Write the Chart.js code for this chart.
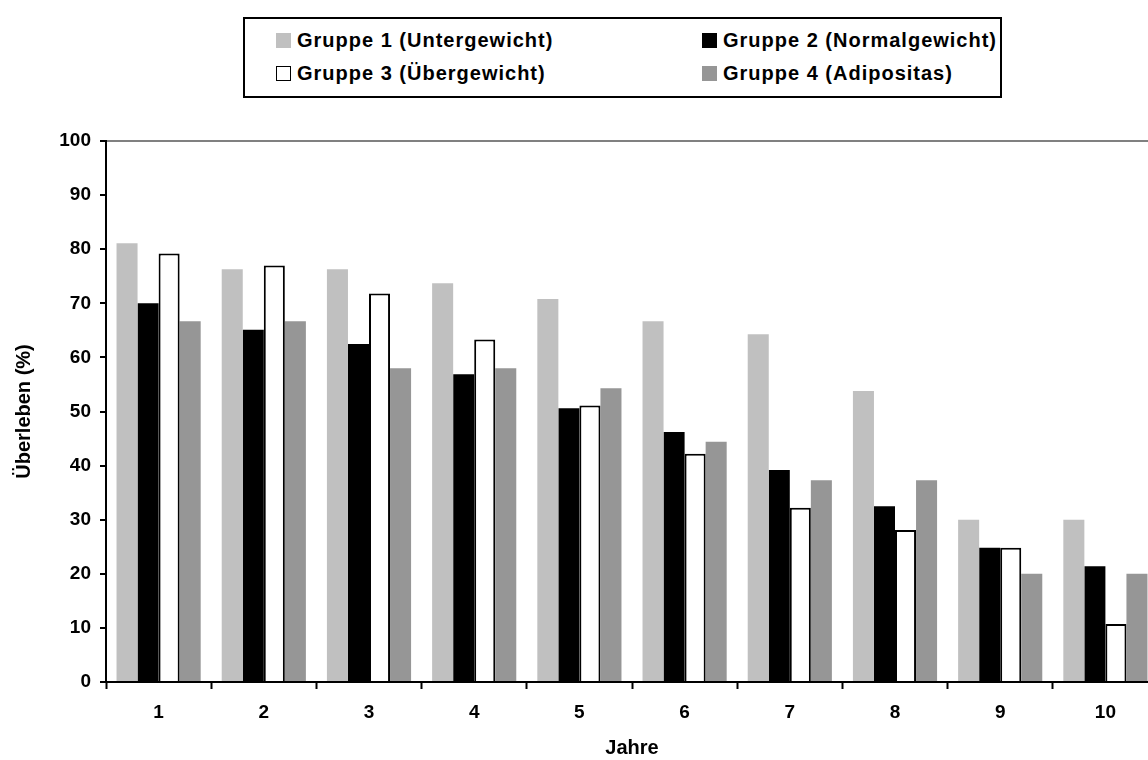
<!DOCTYPE html>
<html>
<head>
<meta charset="utf-8">
<script src="https://cdn.jsdelivr.net/npm/chart.js@4.4.1/dist/chart.umd.min.js"></script>
<style>
html,body{margin:0;padding:0;background:#fff;overflow:hidden;width:1148px;height:760px;}
#wrap{position:relative;width:1148px;height:760px;overflow:hidden;background:#fff;}
#c{position:absolute;left:0;top:0;}
#legend{position:absolute;left:243px;top:17px;width:755px;height:77px;border:2px solid #000;background:#fff;
  font:bold 20px "Liberation Sans",Arial,sans-serif;color:#000;letter-spacing:1px;}
.item{position:absolute;display:flex;align-items:center;white-space:nowrap;height:20px;line-height:20px;}
.sw{width:15px;height:15px;margin-right:6px;box-sizing:border-box;flex:none;}
</style>
</head>
<body>
<div id="wrap">
  <canvas id="c" width="1160" height="760"></canvas>
  <div id="legend"></div>
</div>
<script>
// ---- data ----
const years = ['1','2','3','4','5','6','7','8','9','10'];
const seriesNames = ['Gruppe 1 (Untergewicht)','Gruppe 2 (Normalgewicht)','Gruppe 3 (Übergewicht)','Gruppe 4 (Adipositas)'];
const gruppe1 = [81.1, 76.3, 76.3, 73.7, 70.8, 66.7, 64.3, 53.8, 30.0, 30.0];
const gruppe2 = [70.0, 65.1, 62.5, 56.9, 50.6, 46.2, 39.2, 32.5, 24.8, 21.4];
const gruppe3 = [79.2, 77.0, 71.8, 63.3, 51.1, 42.2, 32.2, 28.1, 24.8, 10.7];
const gruppe4 = [66.7, 66.7, 58.0, 58.0, 54.3, 44.4, 37.3, 37.3, 20.0, 20.0];
const yTickMin = 0, yTickMax = 100, yTickStep = 10;
const xTitle = 'Jahre';
const yTitle = 'Überleben (%)';

// ---- styles ----
const fills = ['#C0C0C0', '#000000', '#FFFFFF', '#969696'];
const borders = [0, 0, 2, 0];
const seriesData = [gruppe1, gruppe2, gruppe3, gruppe4];
const FONT = '"Liberation Sans", Arial, sans-serif';

const datasets = seriesData.map((d, i) => ({
  label: seriesNames[i],
  data: d,
  backgroundColor: fills[i],
  borderColor: '#000000',
  borderWidth: borders[i],
  categoryPercentage: 0.8,
  barPercentage: 1.0
}));

new Chart(document.getElementById('c'), {
  type: 'bar',
  data: { labels: years, datasets },
  options: {
    responsive: false,
    animation: false,
    layout: { padding: { top: 141, right: 2, left: 0, bottom: 0 } },
    plugins: { legend: { display: false }, tooltip: { enabled: false } },
    scales: {
      x: {
        grid: { offset: true, drawOnChartArea: false, tickLength: 7, tickColor: '#000', tickWidth: 2 },
        border: { color: '#000', width: 2 },
        ticks: { font: { family: FONT, size: 19, weight: 'bold' }, color: '#000', padding: 12, maxRotation: 0 },
        title: { display: true, text: xTitle, color: '#000', font: { family: FONT, size: 20, weight: 'bold' }, padding: { top: 0, bottom: 0 } },
        afterFit(s) { s.height = 78; }
      },
      y: {
        min: yTickMin, max: yTickMax,
        ticks: { stepSize: yTickStep, font: { family: FONT, size: 19, weight: 'bold' }, color: '#000', padding: 9 },
        grid: {
          color: ctx => (ctx.tick && ctx.tick.value === yTickMax) ? '#808080' : 'rgba(0,0,0,0)',
          lineWidth: 2, tickColor: '#000', tickLength: 6, tickWidth: 2
        },
        border: { color: '#000', width: 2 },
        title: { display: true, text: yTitle, color: '#000', font: { family: FONT, size: 20, weight: 'bold' }, padding: { top: 12, bottom: 0 } },
        afterFit(s) { s.width = 106; }
      }
    }
  }
});

// ---- legend (HTML, built from the series arrays) ----
const legend = document.getElementById('legend');
const pos = [[31, 11], [457, 11], [31, 44], [457, 44]];
seriesNames.forEach((name, i) => {
  const it = document.createElement('div');
  it.className = 'item';
  it.style.left = pos[i][0] + 'px';
  it.style.top = pos[i][1] + 'px';
  const sw = document.createElement('span');
  sw.className = 'sw';
  sw.style.background = fills[i];
  if (borders[i]) sw.style.border = '1.5px solid #000';
  const tx = document.createElement('span');
  tx.textContent = name;
  it.appendChild(sw); it.appendChild(tx);
  legend.appendChild(it);
});
</script>
</body>
</html>
